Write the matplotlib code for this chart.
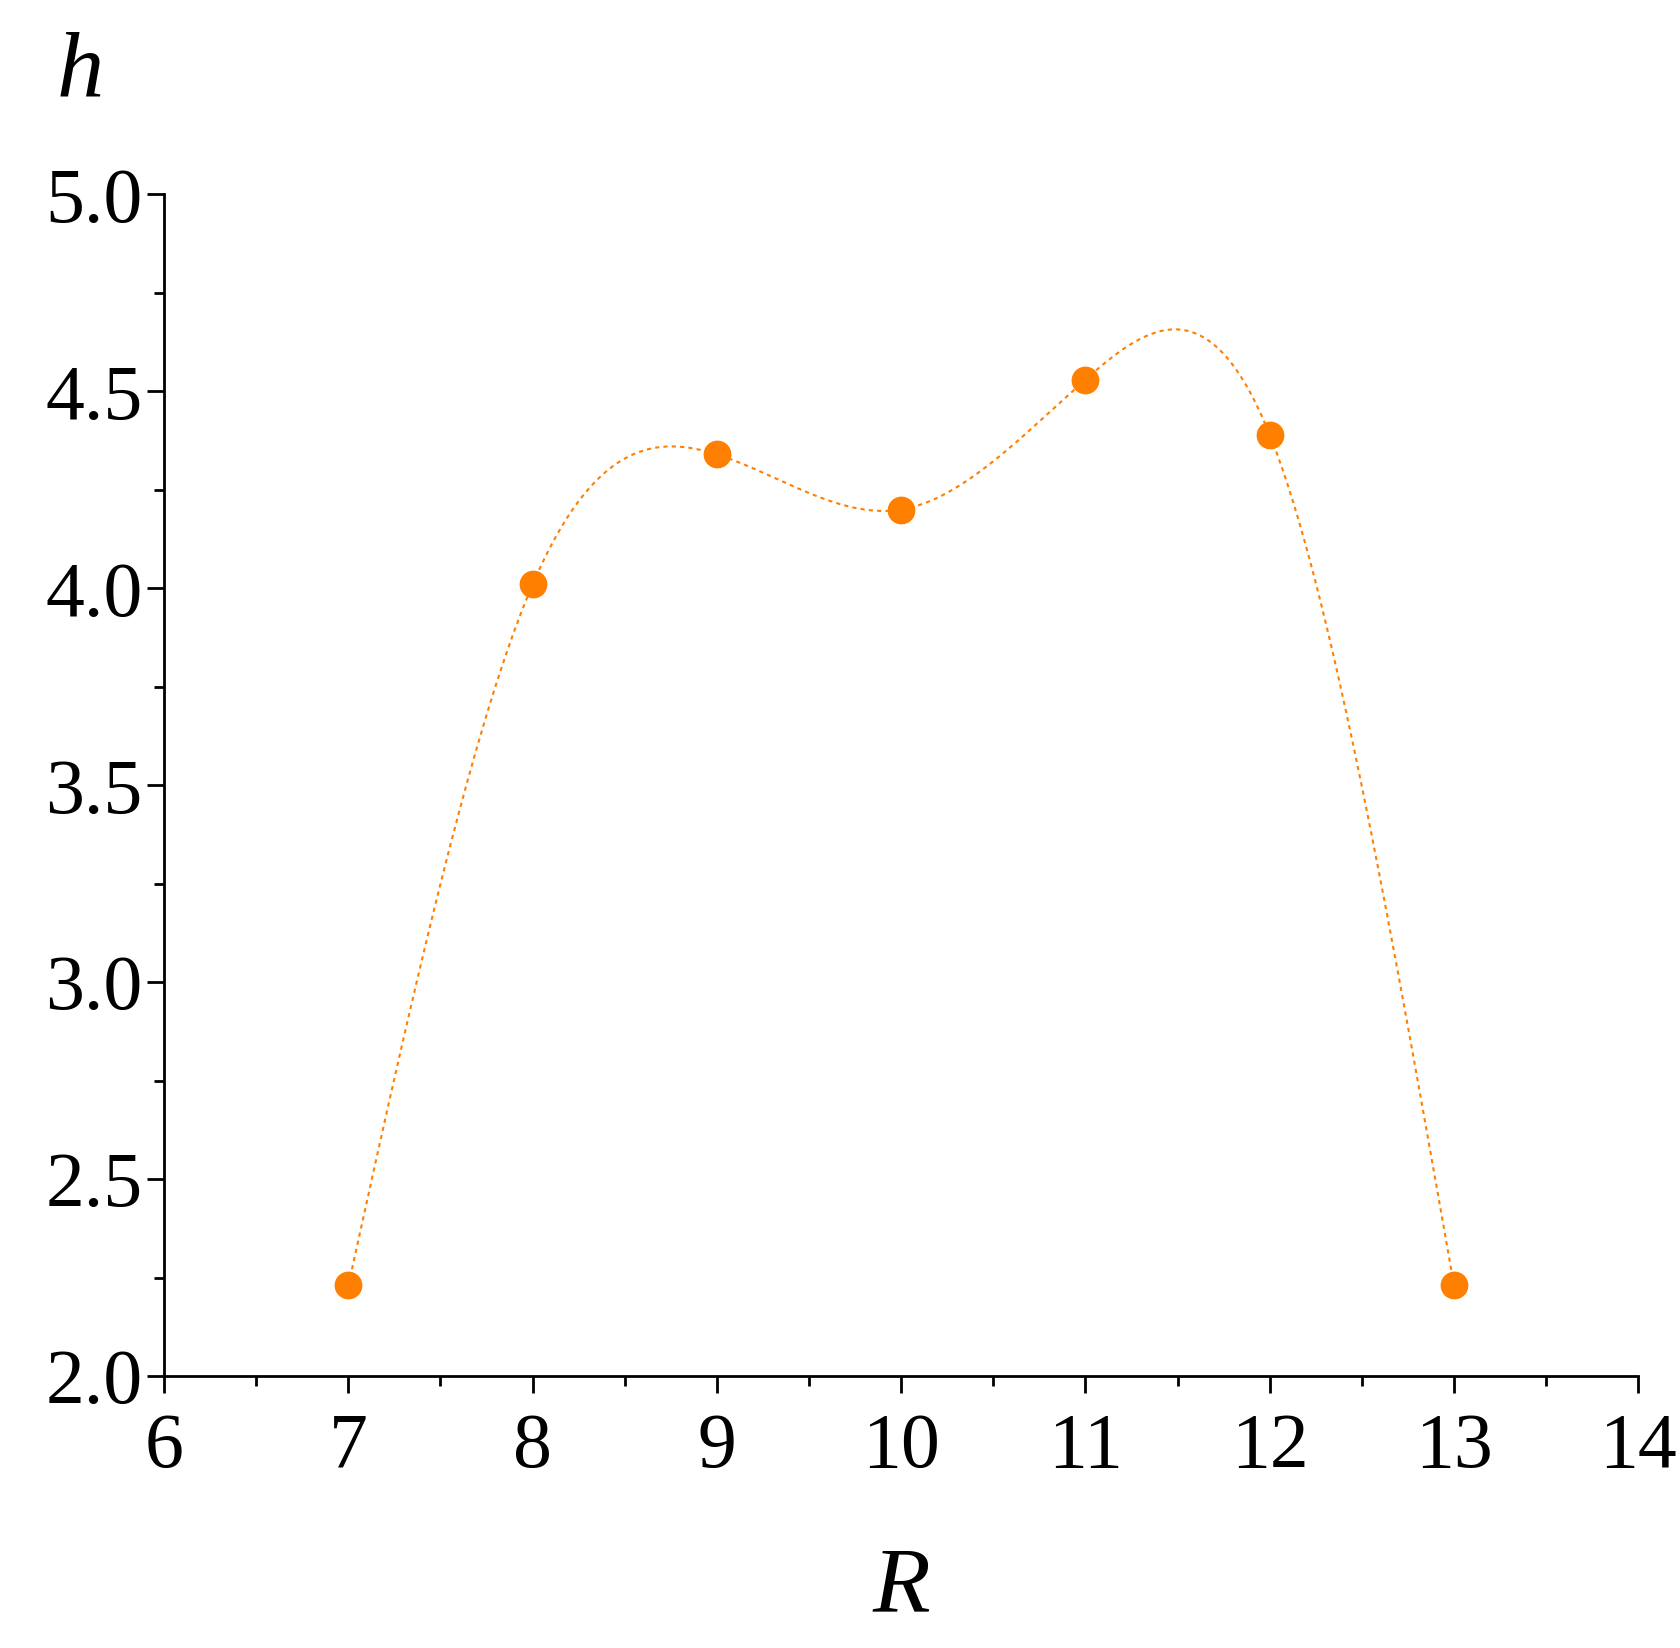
import numpy as np
import matplotlib
matplotlib.use("Agg")
import matplotlib.pyplot as plt
from matplotlib.ticker import MultipleLocator

R = [7, 8, 9, 10, 11, 12, 13]
h = [2.23, 4.01, 4.34, 4.20, 4.53, 4.39, 2.23]
color = "#FF7F00"

def natural_spline(x, y, xs):
    x = np.asarray(x, float); y = np.asarray(y, float)
    n = len(x); hh = np.diff(x)
    A = np.zeros((n, n)); b = np.zeros(n)
    A[0, 0] = A[-1, -1] = 1
    for i in range(1, n - 1):
        A[i, i-1] = hh[i-1]; A[i, i] = 2*(hh[i-1]+hh[i]); A[i, i+1] = hh[i]
        b[i] = 3*((y[i+1]-y[i])/hh[i] - (y[i]-y[i-1])/hh[i-1])
    c = np.linalg.solve(A, b)
    out = np.empty_like(xs)
    for k, t in enumerate(xs):
        i = min(np.searchsorted(x, t, side='right') - 1, n - 2)
        d = t - x[i]
        bi = (y[i+1]-y[i])/hh[i] - hh[i]*(2*c[i]+c[i+1])/3
        di = (c[i+1]-c[i])/(3*hh[i])
        out[k] = y[i] + bi*d + c[i]*d*d + di*d**3
    return out

plt.rcParams['font.family'] = ['Liberation Serif', 'DejaVu Serif']
fig = plt.figure(figsize=(16.81, 16.48), dpi=100)
ax = fig.add_axes([0.0976, 0.165, 0.877, 0.717])
xs = np.linspace(R[0], R[-1], 400)
ax.plot(xs, natural_spline(R, h, xs), ls=(0, (2, 2)), color=color, lw=1.5)
ax.plot(R, h, 'o', color=color, ms=19, zorder=3)
ax.set_xlim(6, 14); ax.set_ylim(2.0, 5.0)
ax.xaxis.set_major_locator(MultipleLocator(1)); ax.xaxis.set_minor_locator(MultipleLocator(0.5))
ax.yaxis.set_major_locator(MultipleLocator(0.5)); ax.yaxis.set_minor_locator(MultipleLocator(0.25))
ax.set_yticklabels([f"{v:.1f}" for v in ax.get_yticks()])
for s in ['top', 'right']:
    ax.spines[s].set_visible(False)
for s in ['left', 'bottom']:
    ax.spines[s].set_linewidth(2)
ax.tick_params(which='major', length=12, width=2, labelsize=56, direction='out')
ax.tick_params(which='minor', length=7, width=2, direction='out')
ax.tick_params(axis='x', pad=14)
ax.set_xlabel('R', style='italic', fontsize=68, labelpad=45)
fig.text(0.048, 0.955, 'h', style='italic', fontsize=68, ha='center', va='center')
fig.savefig('out.png', dpi=100, facecolor='white')
